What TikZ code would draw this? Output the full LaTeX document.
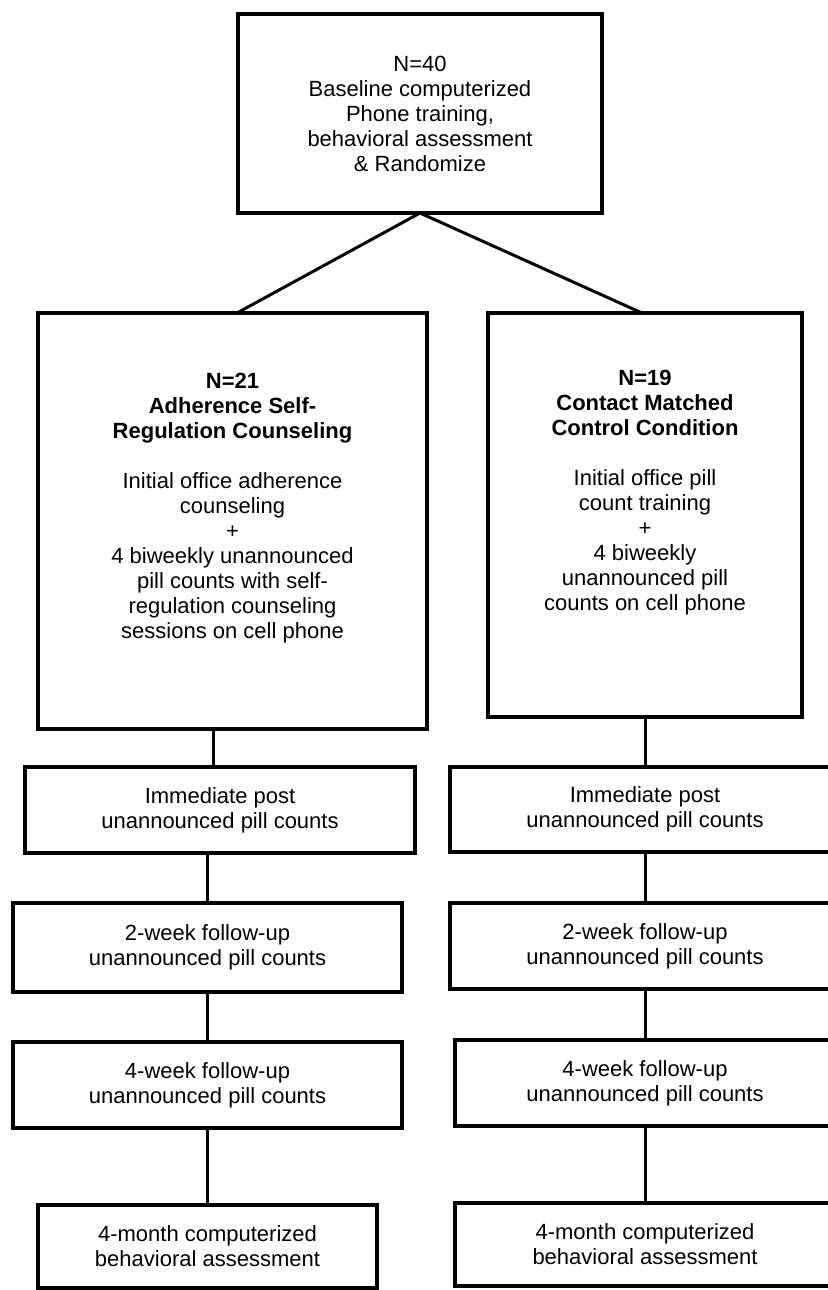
\documentclass[tikz,border=0pt]{standalone}
\usepackage{fontspec}
\setmainfont{Liberation Sans}
\usetikzlibrary{positioning}

\begin{document}
\begin{tikzpicture}[x=1pt,y=1pt,
  font=\fontsize{22}{25}\selectfont,
  box/.style={draw,line width=3.5pt,align=center,inner sep=0pt,outer sep=0pt},
  txt/.style={align=center,inner sep=0pt},
  link/.style={line width=3pt}]
\useasboundingbox (0,0) rectangle (827,-1290);
\node[box,minimum width=364pt,minimum height=199pt] (base) at (420,-113.5) {N=40\\Baseline computerized\\Phone training,\\behavioral assessment\\\& Randomize};
\node[box,minimum width=389pt,minimum height=416pt] (adh) at (232.5,-521) {};
\node[box,minimum width=314pt,minimum height=404pt] (ctl) at (645,-515) {};
\node[txt] (adhtxt) at ([yshift=12.5pt]adh.center) {\textbf{N=21}\\\textbf{Adherence Self-}\\\textbf{Regulation Counseling}\\[25pt]Initial office adherence\\counseling\\+\\4 biweekly unannounced\\pill counts with self-\\regulation counseling\\sessions on cell phone};
\node[txt] (ctltxt) at ([yshift=22pt]ctl.center) {\textbf{N=19}\\\textbf{Contact Matched}\\\textbf{Control Condition}\\[25pt]Initial office pill\\count training\\+\\4 biweekly\\unannounced pill\\counts on cell phone};
% left arm
\node[box,minimum width=390pt,minimum height=86pt,below=38pt of adh,xshift=-12.5pt] (postL) {Immediate post\\unannounced pill counts};
\node[box,minimum width=389pt,minimum height=89pt,below=50pt of postL,xshift=-12.5pt] (wktwoL) {2-week follow-up\\unannounced pill counts};
\node[box,minimum width=389pt,minimum height=86pt,below=50pt of wktwoL] (wkfourL) {4-week follow-up\\unannounced pill counts};
\node[box,minimum width=339pt,minimum height=83pt,below=77pt of wkfourL] (monthL) {4-month computerized\\behavioral assessment};
% right arm
\node[box,minimum width=390pt,minimum height=85pt,below=50pt of ctl] (postR) {Immediate post\\unannounced pill counts};
\node[box,minimum width=390pt,minimum height=86pt,below=51pt of postR] (wktwoR) {2-week follow-up\\unannounced pill counts};
\node[box,minimum width=380pt,minimum height=86pt,below=51pt of wktwoR] (wkfourR) {4-week follow-up\\unannounced pill counts};
\node[box,minimum width=380pt,minimum height=83pt,below=77pt of wkfourR] (monthR) {4-month computerized\\behavioral assessment};
\draw[link] (base.south) -- ([xshift=4.5pt]adh.north);
\draw[link] (base.south) -- ([xshift=-3pt]ctl.north);
\draw[link] ([xshift=-7pt]postL.north |- adh.south) -- ([xshift=-7pt]postL.north);
\draw[link] (postL.south -| wktwoL.north) -- (wktwoL.north);
\draw[link] (wktwoL) -- (wkfourL);
\draw[link] (wkfourL) -- (monthL);
\draw[link] (ctl) -- (postR);
\draw[link] (postR) -- (wktwoR);
\draw[link] (wktwoR) -- (wkfourR);
\draw[link] (wkfourR) -- (monthR);
\end{tikzpicture}
\end{document}
